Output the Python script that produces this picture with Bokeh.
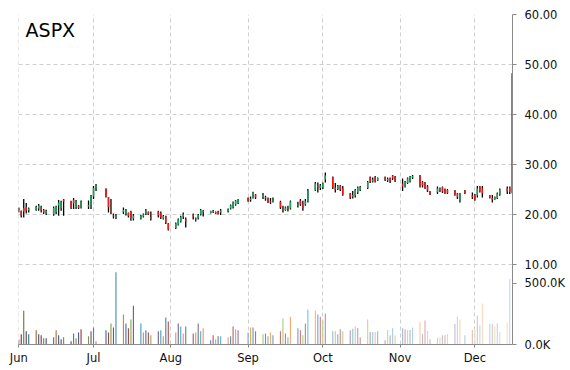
import pandas as pd
from bokeh.plotting import figure
from bokeh.models import (Range1d, FixedTicker, CustomJSTickFormatter,
                          DatetimeTickFormatter, Label, ColumnDataSource)
from bokeh.embed import file_html
from bokeh.resources import INLINE

symbol = "ASPX"
first_day = "2015-06-01"
last_day = "2015-12-16"
missing_days = ["2015-07-03", "2015-08-31", "2015-11-26"]
month_starts = ["2015-06-01", "2015-07-01", "2015-08-01", "2015-09-01",
                "2015-10-01", "2015-11-01", "2015-12-01"]
price_ticks = [10, 20, 30, 40, 50, 60]
volume_ticks = [0, 500000]

open_ = [21.3, 20.7, 21.3, 21.5, 20.8, 20.9, 21.2, 21.5, 20.9, 20.2,
         20.0, 20.5, 21.8, 21.3, 23.0, 22.7, 22.9, 21.5, 21.8, 21.4,
         21.6, 21.8, 23.6, 25.2, 25.2, 23.5, 21.2, 19.8, 19.3, 20.5,
         20.1, 20.3, 20.5, 19.2, 19.2, 19.6, 20.2, 20.5, 19.5, 20.6,
         20.3, 19.2, 19.6, 18.2, 17.3, 18.0, 18.6, 19.6, 19.0, 20.0,
         19.0, 19.3, 20.0, 20.5, 20.3, 20.5, 20.5, 20.6, 20.4, 20.7,
         21.2, 21.5, 22.0, 22.3, 23.3, 22.9, 23.3, 24.0, 23.5, 23.5,
         23.2, 22.6, 22.6, 22.5, 21.0, 20.9, 21.2, 21.2, 21.8, 22.8,
         21.8, 22.0, 22.6, 24.8, 25.8, 25.3, 25.4, 27.0, 27.5, 25.4,
         25.1, 25.8, 25.2, 24.2, 23.6, 23.8, 24.4, 24.9, 25.3, 27.4,
         26.6, 27.5, 26.8, 27.5, 26.8, 27.2, 27.8, 27.5, 26.2, 25.6,
         26.3, 26.6, 27.4, 27.8, 26.4, 26.2, 25.6, 24.6, 24.5, 24.9,
         25.5, 25.0, 24.9, 24.8, 24.2, 22.8, 24.8, 23.8, 23.9, 23.8,
         25.6, 25.2, 23.8, 23.3, 23.1, 23.3, 24.0, 25.2, 25.4, 24.4]
high = [21.4, 20.8, 23.1, 22.3, 21.4, 21.75, 22.1, 21.75, 21.1, 20.96,
        21.6, 21.75, 22.9, 22.75, 23.1, 22.75, 23.3, 22.9, 21.9, 22.8,
        22.8, 23.9, 25.7, 26.1, 25.2, 23.5, 23.1, 20.2, 20.1, 21.4,
        21.1, 20.4, 20.76, 20.1, 19.9, 20.2, 21.1, 20.6, 20.6, 20.76,
        20.6, 19.9, 19.76, 18.3, 18.4, 19.2, 19.76, 20.4, 19.4, 20.2,
        19.4, 20.1, 21.1, 20.9, 20.76, 20.9, 20.6, 20.76, 21.1, 21.2,
        22.0, 22.6, 22.9, 23.1, 23.4, 23.6, 24.55, 24.1, 24.3, 23.75,
        23.4, 23.3, 23.4, 22.75, 21.75, 21.6, 21.75, 22.8, 22.55, 23.1,
        22.75, 23.1, 25.1, 26.5, 26.4, 26.1, 26.4, 28.4, 27.6, 26.3,
        25.9, 25.9, 25.7, 24.3, 24.7, 25.1, 25.6, 25.7, 26.7, 27.6,
        27.4, 27.7, 27.4, 27.6, 27.4, 27.4, 27.9, 27.7, 27.2, 26.7,
        27.4, 27.7, 27.9, 27.9, 26.7, 26.5, 25.9, 24.7, 25.6, 25.4,
        25.6, 25.2, 25.1, 24.9, 24.3, 24.3, 24.9, 24.4, 24.1, 25.7,
        25.7, 25.7, 23.9, 23.9, 23.6, 24.4, 25.2, 25.6, 25.6, 48.3]
low = [20.4, 19.4, 19.4, 20.2, 20.4, 20.76, 20.76, 20.4, 20.1, 19.9,
       19.76, 20.1, 19.76, 20.76, 19.76, 21.1, 21.1, 21.1, 21.1, 21.2,
       21.1, 21.1, 23.1, 24.7, 23.4, 20.4, 20.1, 19.2, 19.1, 20.1,
       19.8, 19.4, 18.76, 18.8, 19.0, 19.4, 19.9, 19.9, 18.8, 19.4,
       19.1, 19.0, 18.1, 16.8, 17.1, 17.8, 18.4, 19.1, 17.4, 19.0,
       18.6, 19.0, 19.8, 19.6, 20.2, 20.3, 20.1, 20.0, 19.9, 20.4,
       21.0, 21.2, 21.75, 22.1, 22.55, 22.55, 23.2, 23.1, 23.1, 22.75,
       22.3, 22.1, 22.4, 21.1, 20.4, 20.76, 20.6, 21.0, 21.4, 21.75,
       20.76, 21.75, 22.4, 24.7, 24.4, 24.9, 25.1, 26.4, 25.1, 24.4,
       24.9, 24.7, 23.75, 23.1, 23.2, 23.4, 24.1, 24.7, 25.1, 26.3,
       26.4, 26.4, 26.7, 26.7, 26.5, 26.3, 26.9, 26.5, 24.7, 25.4,
       26.1, 26.4, 27.1, 25.4, 25.4, 25.1, 24.5, 23.9, 24.1, 24.5,
       24.3, 24.1, 24.1, 23.75, 23.1, 22.4, 24.1, 23.1, 22.75, 23.4,
       24.4, 23.4, 23.2, 22.4, 22.95, 23.1, 23.75, 24.1, 24.1, 24.2]
close = [20.9, 19.8, 20.6, 20.8, 21.2, 21.5, 21.8, 20.9, 20.4, 20.7,
         21.3, 21.6, 22.4, 22.5, 22.6, 21.3, 22.2, 22.6, 21.3, 22.5,
         21.9, 23.7, 25.3, 25.8, 23.6, 21.5, 20.8, 19.6, 19.8, 20.9,
         20.9, 19.7, 19.3, 19.8, 19.7, 20.0, 20.8, 20.0, 19.2, 19.8,
         19.5, 19.7, 18.4, 17.0, 18.2, 19.0, 19.5, 20.0, 18.6, 19.6,
         19.2, 19.9, 20.9, 20.7, 20.7, 20.7, 20.2, 20.2, 20.8, 21.0,
         21.8, 22.4, 22.8, 23.0, 22.8, 23.2, 24.4, 23.4, 23.9, 23.2,
         22.6, 22.4, 23.0, 21.4, 20.8, 21.4, 21.0, 22.6, 22.0, 22.0,
         21.3, 22.6, 24.8, 26.2, 25.4, 25.8, 26.2, 27.8, 25.4, 25.0,
         25.7, 25.0, 24.0, 23.4, 23.9, 24.9, 25.4, 25.5, 26.5, 26.6,
         27.0, 26.6, 27.3, 26.9, 27.1, 26.6, 27.2, 26.8, 25.6, 26.5,
         27.2, 27.5, 27.7, 25.8, 25.8, 25.4, 24.8, 24.1, 25.2, 25.1,
         24.6, 24.3, 24.3, 24.0, 23.5, 24.2, 24.2, 23.5, 23.0, 25.2,
         24.6, 24.2, 23.4, 23.0, 23.5, 24.2, 25.0, 24.6, 24.5, 48.0]
volume_k = [40, 83, 277, 108, 83, 116, 83, 75, 51, 51,
            59, 116, 75, 43, 59, 27, 91, 51, 99, 124,
            67, 108, 140, 27, 116, 99, 172, 140, 591, 245,
            172, 132, 204, 317, 172, 99, 116, 99, 75, 108,
            116, 67, 220, 188, 99, 172, 148, 91, 148, 91,
            99, 172, 108, 132, 35, 75, 43, 67, 67, 59,
            67, 148, 124, 116, 99, 140, 140, 108, 83, 91,
            67, 99, 75, 108, 212, 91, 59, 228, 132, 116,
            75, 172, 285, 277, 245, 228, 196, 253, 108, 108,
            83, 124, 108, 116, 129, 148, 134, 59, 204, 102,
            102, 102, 108, 35, 118, 75, 132, 75, 132, 124,
            118, 118, 140, 183, 86, 196, 110, 43, 54, 59,
            75, 75, 83, 167, 228, 204, 75, 118, 124, 237,
            156, 336, 172, 167, 148, 172, 102, 180, 535, 0]

palette = ["#4f81bd", "#c0504d", "#9bbb59", "#8064a2", "#4bacc6", "#f79646"]
UP = "#0fa656"
DOWN = "#ff1414"

days = pd.bdate_range(first_day, last_day)
days = days[~days.isin(pd.to_datetime(missing_days))]
n = len(days)


def shade(hexc, amt):
    rgb = [int(hexc[i:i + 2], 16) for i in (1, 3, 5)]
    if amt < 0:
        rgb = [c * (1 + amt) for c in rgb]
    else:
        rgb = [c + (255 - c) * amt for c in rgb]
    return "#%02x%02x%02x" % tuple(int(round(c)) for c in rgb)


vol_colors = [shade(palette[i % 6], -0.35 + 1.05 * i / (n - 1)) for i in range(n)]

src = ColumnDataSource(dict(
    date=days, open=open_, high=high, low=low, close=close,
    top=[max(o, c) for o, c in zip(open_, close)],
    bottom=[min(o, c) for o, c in zip(open_, close)],
    color=[UP if c >= o else DOWN for o, c in zip(open_, close)],
    volume=[v * 1000 for v in volume_k],
    vcolor=vol_colors,
))

DAY = 86400000.0
def ms(s):
    return pd.Timestamp(s).value / 1e6

y_lo, y_hi = -6.0, 60.0
vol_hi = 2.70e6

p = figure(x_axis_type="datetime", frame_width=494, frame_height=330,
           output_backend="svg", toolbar_location=None,
           y_axis_location="right",
           x_range=Range1d(ms(first_day) - 0.1 * DAY, ms(last_day) + 0.1 * DAY),
           y_range=Range1d(y_lo, y_hi),
           min_border_left=18, min_border_top=14, min_border_bottom=4,
           min_border_right=4)
p.extra_y_ranges = {"vol": Range1d(0, vol_hi)}
p.outline_line_color = None
p.background_fill_color = "white"
p.border_fill_color = "white"

# grids
month_ms = [ms(m) for m in month_starts]
p.xaxis.ticker = FixedTicker(ticks=month_ms)
p.xaxis.formatter = DatetimeTickFormatter(
    milliseconds="%b", seconds="%b", minsec="%b", minutes="%b", hourmin="%b",
    hours="%b", days="%b", months="%b", years="%b")
p.xgrid.ticker = FixedTicker(ticks=month_ms)
p.ygrid.ticker = FixedTicker(ticks=price_ticks)
for g in (p.xgrid, p.ygrid):
    g.grid_line_color = "#cfcfcf"
    g.grid_line_dash = "4 3"
    g.grid_line_width = 1

# right axis: price ticks plus volume ticks mapped onto the same scale
vol_pos = [y_lo + v / vol_hi * (y_hi - y_lo) for v in volume_ticks]
yax = p.yaxis[0]
yax.ticker = FixedTicker(ticks=vol_pos + price_ticks)
yax.formatter = CustomJSTickFormatter(args=dict(lo=y_lo, hi=y_hi, vmax=vol_hi), code="""
    if (tick < 9) {
        let v = (tick - lo) / (hi - lo) * vmax;
        if (Math.abs(v) < 1) { v = 0; }
        return (v / 1000).toFixed(1) + "K";
    }
    return tick.toFixed(2);
""")

for ax in (p.xaxis[0], yax):
    ax.axis_line_color = "#8a8a8a"
    ax.major_tick_line_color = "#8a8a8a"
    ax.minor_tick_line_color = None
    ax.major_tick_in = 0
    ax.major_tick_out = 4
    ax.major_label_text_font = "DejaVu Sans"
    ax.major_label_text_font_size = "11.5px"
    ax.major_label_text_color = "#111111"
yax.major_label_standoff = 8
p.xaxis[0].major_label_standoff = 3
p.xaxis[0].major_tick_out = 3

# volume
p.vbar(x="date", top="volume", bottom=0, width=0.45 * DAY, source=src,
       fill_color="vcolor", line_color=None, y_range_name="vol")

# candles
p.segment(x0="date", y0="low", x1="date", y1="high", source=src,
          line_color="black", line_width=1.3)
p.vbar(x="date", top="top", bottom="bottom", width=0.6 * DAY, source=src,
       fill_color="color", line_color=None)

p.add_layout(Label(x=ms("2015-06-03 18:00"), y=57.0, text=symbol,
                   text_font="DejaVu Sans", text_font_size="19px",
                   text_color="black", text_baseline="alphabetic"))

open("out.html", "w").write(file_html(p, INLINE))
